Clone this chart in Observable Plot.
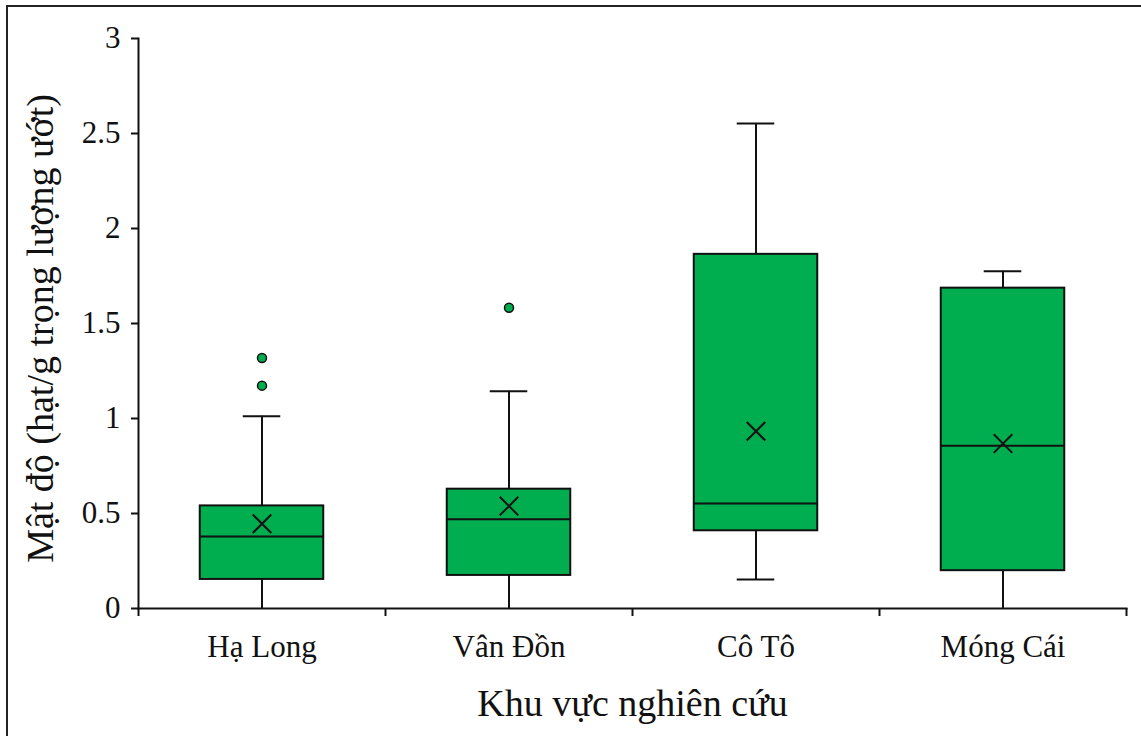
<!DOCTYPE html>
<html>
<head>
<meta charset="utf-8">
<script src="https://cdn.jsdelivr.net/npm/d3@7"></script>
<script src="https://cdn.jsdelivr.net/npm/@observablehq/plot@0.6"></script>
<style>
  html, body { margin: 0; padding: 0; background: #fff; }
  #wrap { position: relative; width: 1141px; height: 736px; overflow: hidden; }
  #border { position: absolute; left: 6px; top: 5px; width: 1140px; height: 740px;
            border-left: 2px solid #222; border-top: 2px solid #222; pointer-events: none; }
</style>
</head>
<body>
<div id="wrap"><div id="border"></div></div>
<script>
const categories = ["Hạ Long", "Vân Đồn", "Cô Tô", "Móng Cái"];
const whiskerLow  = [0,     0,     0.153, 0];
const q1          = [0.153, 0.174, 0.409, 0.199];
const median      = [0.379, 0.470, 0.553, 0.856];
const q3          = [0.540, 0.628, 1.864, 1.686];
const whiskerHigh = [1.012, 1.143, 2.553, 1.775];
const means       = [0.446, 0.539, 0.933, 0.868];
const outlierCat  = ["Hạ Long", "Hạ Long", "Vân Đồn"];
const outlierVal  = [1.318, 1.173, 1.583];
const yTicks = [0, 0.5, 1, 1.5, 2, 2.5, 3];
const xTitle = "Khu vực nghiên cứu";
const yTitle = "Mật độ (hạt/g trọng lượng ướt)";

const boxes = categories.map((c, i) => ({
  cat: c, i, lo: whiskerLow[i], q1: q1[i], med: median[i], q3: q3[i], hi: whiskerHigh[i], mean: means[i]
}));
const outliers = outlierCat.map((c, k) => ({ i: categories.indexOf(c), v: outlierVal[k] }));

const green = "#00ad4f";
const half = 0.25;   // half box width (band units)
const cap = 0.076;   // half whisker cap width (band units)
const font = "'Liberation Serif', 'Times New Roman', serif";

const chart = Plot.plot({
  width: 1141,
  height: 736,
  marginLeft: 138,
  marginRight: 15,
  marginTop: 38,
  marginBottom: 128,
  style: { fontFamily: font, background: "transparent", color: "#111" },
  x: { domain: [0, categories.length], axis: null },
  y: { domain: [0, 3], axis: null },
  marks: [
    Plot.ruleX(boxes, { x: d => d.i + 0.5, y1: "lo", y2: "q1", stroke: "#111", strokeWidth: 2 }),
    Plot.ruleX(boxes, { x: d => d.i + 0.5, y1: "q3", y2: "hi", stroke: "#111", strokeWidth: 2 }),
    Plot.ruleY(boxes, { y: "hi", x1: d => d.i + 0.5 - cap, x2: d => d.i + 0.5 + cap, stroke: "#111", strokeWidth: 2 }),
    Plot.ruleY(boxes.filter(d => d.lo > 0), { y: "lo", x1: d => d.i + 0.5 - cap, x2: d => d.i + 0.5 + cap, stroke: "#111", strokeWidth: 2 }),
    Plot.rect(boxes, { x1: d => d.i + 0.5 - half, x2: d => d.i + 0.5 + half, y1: "q1", y2: "q3",
      fill: green, stroke: "#111", strokeWidth: 2 }),
    Plot.ruleY(boxes, { y: "med", x1: d => d.i + 0.5 - half, x2: d => d.i + 0.5 + half, stroke: "#111", strokeWidth: 2 }),
    Plot.dot(boxes, { x: d => d.i + 0.5, y: "mean", symbol: "times", r: 8.5, stroke: "#111", strokeWidth: 2 }),
    Plot.dot(outliers, { x: d => d.i + 0.5, y: "v", r: 4.5, fill: green, stroke: "#111", strokeWidth: 1.5 }),
    Plot.frame({ anchor: "left", stroke: "#111", strokeWidth: 2 }),
    Plot.frame({ anchor: "bottom", stroke: "#111", strokeWidth: 2 }),
    Plot.axisY({ ticks: yTicks, tickSize: 7, tickPadding: 11, fontSize: 31, label: null, strokeWidth: 2, stroke: "#111",
      tickFormat: d => String(d) }),
    Plot.axisX({ ticks: d3.range(categories.length + 1), tickSize: 8, tickFormat: () => "", label: null, strokeWidth: 2, stroke: "#111" }),
    Plot.axisX({ ticks: categories.map((c, i) => i + 0.5), tickSize: 0, tickPadding: 26, fontSize: 31,
      tickFormat: d => categories[Math.floor(d)], label: null }),
    Plot.text([xTitle], { text: d => d, frameAnchor: "bottom", dy: 107, lineAnchor: "bottom", fontSize: 38, fill: "#111" }),
    Plot.text([yTitle], { text: d => d, frameAnchor: "left", dx: -86, dy: 5, rotate: -90, textAnchor: "middle",
      lineAnchor: "bottom", fontSize: 38, fill: "#111" })
  ]
});
document.getElementById("wrap").prepend(chart);
</script>
</body>
</html>
